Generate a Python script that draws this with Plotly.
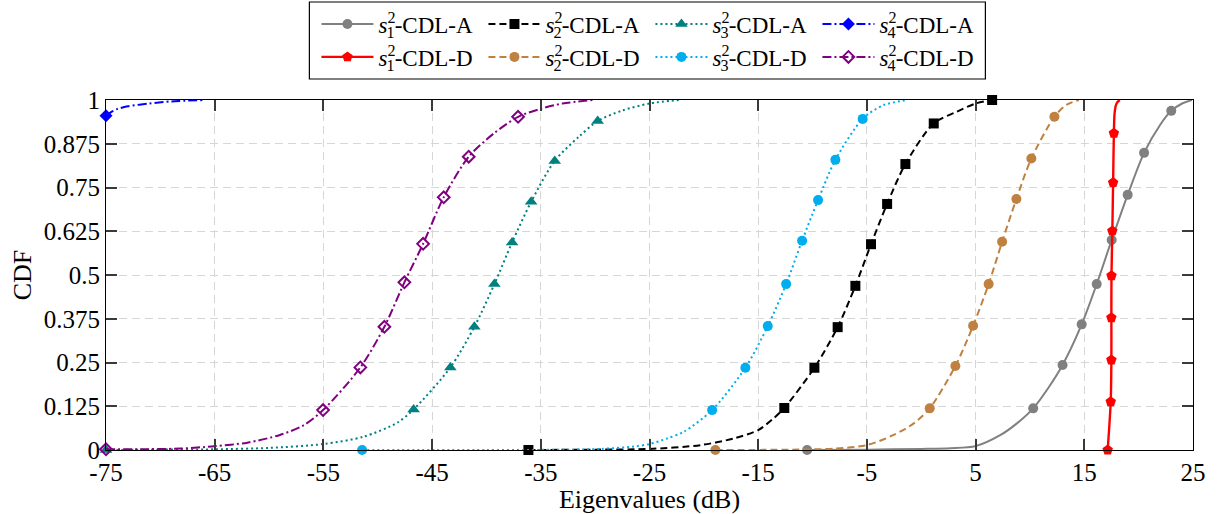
import plotly.graph_objects as go

# ---- axis ticks ----
X_TICKS = [-75, -65, -55, -45, -35, -25, -15, -5, 5, 15, 25]
X_TICK_TEXT = ["-75", "-65", "-55", "-45", "-35", "-25", "-15", "-5", "5", "15", "25"]
Y_TICKS = [0, 0.125, 0.25, 0.375, 0.5, 0.625, 0.75, 0.875, 1]
Y_TICK_TEXT = ["0", "0.125", "0.25", "0.375", "0.5", "0.625", "0.75", "0.875", "1"]

# ---- empirical CDF curves (eigenvalue in dB, CDF) ----
S1A_X = [-10.5, -5, 0, 2.7, 5, 7.3, 8.8, 10.3, 11.7, 13.0, 14.76, 16.14, 17.52, 18.99, 20.5, 22.0, 23.0, 24.0, 24.9]
S1A_Y = [0, 0.001, 0.003, 0.005, 0.011, 0.043, 0.076, 0.119, 0.178, 0.243, 0.359, 0.474, 0.600, 0.729, 0.849, 0.93, 0.969, 0.99, 1.0]
S1A_MARK = [0, 7, 9, 10, 11, 12, 13, 14, 16]

S1D_X = [17.15, 17.43, 17.49, 17.49, 17.50, 17.58, 17.65, 17.72, 17.78, 17.88, 18.0, 18.26]
S1D_Y = [0, 0.138, 0.257, 0.378, 0.498, 0.626, 0.764, 0.905, 0.96, 0.982, 0.992, 1.0]
S1D_MARK = [0, 1, 2, 3, 4, 5, 6, 7]

S2A_X = [-36.14, -30, -25, -20.3, -17.25, -15, -13.6, -12.6, -9.83, -7.69, -6.06, -4.62, -3.14, -1.46, 1.15, 3.3, 5.0, 6.52]
S2A_Y = [0, 0.001, 0.003, 0.014, 0.033, 0.057, 0.09, 0.12, 0.235, 0.351, 0.469, 0.588, 0.703, 0.817, 0.933, 0.967, 0.99, 1.0]
S2A_MARK = [0, 7, 8, 9, 10, 11, 12, 13, 14, 17]

S2D_X = [-18.94, -12, -8, -5, -2.54, -0.69, 0.78, 3.14, 4.77, 6.2, 7.44, 8.75, 10.13, 12.25, 13.3, 14.49]
S2D_Y = [0, 0.001, 0.004, 0.014, 0.043, 0.076, 0.119, 0.24, 0.355, 0.474, 0.595, 0.717, 0.833, 0.952, 0.985, 1.0]
S2D_MARK = [0, 6, 7, 8, 9, 10, 11, 12, 13]

S3A_X = [-75, -70, -65, -60, -55, -51.3, -48.2, -46.7, -43.32, -41.11, -39.27, -37.64, -35.89, -33.72, -31.5, -29.77, -27.5, -25, -22.31]
S3A_Y = [0, 0.001, 0.002, 0.006, 0.017, 0.038, 0.078, 0.116, 0.236, 0.352, 0.474, 0.593, 0.709, 0.826, 0.895, 0.94, 0.97, 0.99, 1.0]
S3A_MARK = [0, 7, 8, 9, 10, 11, 12, 13, 15]

S3D_X = [-51.44, -40, -32, -29.5, -26.45, -25, -23.38, -21.85, -19.24, -16.18, -14.12, -12.43, -10.96, -9.49, -7.9, -5.39, -3.5, -1.3]
S3D_Y = [0, 0, 0.001, 0.003, 0.01, 0.017, 0.033, 0.052, 0.114, 0.235, 0.354, 0.474, 0.598, 0.714, 0.829, 0.946, 0.985, 1.0]
S3D_MARK = [0, 8, 9, 10, 11, 12, 13, 14, 15]

S4A_X = [-75, -74.5, -74, -73, -71, -69, -66]
S4A_Y = [0.955, 0.966, 0.974, 0.982, 0.99, 0.996, 1.0]
S4A_MARK = [0]

S4D_X = [-75, -68.2, -65, -62, -59, -56.8, -55.03, -51.6, -49.39, -47.55, -45.83, -43.93, -41.63, -39.3, -37.09, -35, -33, -30.13]
S4D_Y = [0.002, 0.004, 0.011, 0.021, 0.043, 0.071, 0.114, 0.236, 0.352, 0.479, 0.589, 0.722, 0.838, 0.905, 0.952, 0.975, 0.99, 1.0]
S4D_MARK = [0, 6, 7, 8, 9, 10, 11, 12, 14]

FONT = "Liberation Serif"


def label(k, kind):
    # s_k^2 with the sub/superscript stacked
    return ("<i>s</i><sup><span style='letter-spacing:-0.55em'>2</span></sup>"
            f"<sub>{k}</sub>-CDL-{kind}")


# name, x, y, marker idx, colour, dash, symbol, marker size, legend row
SERIES = [
    (label(1, "A"), S1A_X, S1A_Y, S1A_MARK, "#808080", "solid", "circle", 10, "legend"),
    (label(2, "A"), S2A_X, S2A_Y, S2A_MARK, "#000000", "7px,4px", "square", 10, "legend"),
    (label(3, "A"), S3A_X, S3A_Y, S3A_MARK, "#008080", "2px,3px", "triangle-up", 11, "legend"),
    (label(4, "A"), S4A_X, S4A_Y, S4A_MARK, "#0000ff", "9px,3px,2px,3px", "diamond", 10, "legend"),
    (label(1, "D"), S1D_X, S1D_Y, S1D_MARK, "#ff0000", "solid", "pentagon", 11, "legend2"),
    (label(2, "D"), S2D_X, S2D_Y, S2D_MARK, "#bf8040", "7px,4px", "circle", 10, "legend2"),
    (label(3, "D"), S3D_X, S3D_Y, S3D_MARK, "#00aeef", "2px,3px", "circle", 10, "legend2"),
    (label(4, "D"), S4D_X, S4D_Y, S4D_MARK, "#800080", "9px,3px,2px,3px", "diamond-open", 9, "legend2"),
]

fig = go.Figure()

for name, xs, ys, marks, color, dash, symbol, msize, leg in SERIES:
    lw = 2.4 if color == "#ff0000" else 2
    mline = dict(width=2, color=color) if symbol.endswith("open") else dict(width=0)
    # smooth curve
    fig.add_trace(go.Scatter(
        x=xs, y=ys, mode="lines", showlegend=False, hoverinfo="skip",
        line=dict(color=color, width=lw, dash=dash, shape="spline", smoothing=0.8),
    ))
    # markers on the curve
    fig.add_trace(go.Scatter(
        x=[xs[i] for i in marks], y=[ys[i] for i in marks], mode="markers",
        showlegend=False, cliponaxis=False,
        marker=dict(symbol=symbol, size=msize, color=color, line=mline),
    ))
    # legend entry
    fig.add_trace(go.Scatter(
        x=[None], y=[None], mode="lines+markers", name=name, legend=leg,
        line=dict(color=color, width=lw, dash=dash),
        marker=dict(symbol=symbol, size=msize, color=color, line=mline),
    ))

axis_common = dict(
    showline=True, linecolor="black", linewidth=1.2, mirror="ticks",
    ticks="inside", ticklen=11, tickwidth=1.5, tickcolor="#3a3a3a",
    showgrid=True, gridcolor="#d6d6d6", gridwidth=1.2, griddash="8px,5px",
    zeroline=False, automargin=False,
    tickfont=dict(family=FONT, size=25, color="black"),
)

legend_common = dict(
    orientation="h", xanchor="left", yanchor="middle", x=0.1936,
    font=dict(family=FONT, size=23, color="black"),
    itemwidth=52, entrywidth=100, entrywidthmode="pixels",
    bgcolor="rgba(0,0,0,0)", borderwidth=0, itemclick=False, itemdoubleclick=False,
)

fig.update_layout(
    width=1217, height=514,
    margin=dict(l=106, r=24, t=100, b=64, autoexpand=False),
    paper_bgcolor="white", plot_bgcolor="white",
    font=dict(family=FONT, color="black"),
    xaxis=dict(range=[-75, 25], tickvals=X_TICKS, ticktext=X_TICK_TEXT,
               title=dict(text="Eigenvalues (dB)", font=dict(family=FONT, size=26), standoff=0),
               **axis_common),
    yaxis=dict(range=[0, 1], tickvals=Y_TICKS, ticktext=Y_TICK_TEXT,
               title=dict(text="CDF", font=dict(family=FONT, size=26), standoff=4),
               **axis_common),
    legend=dict(y=1.2172, **legend_common),
    legend2=dict(y=1.123, **legend_common),
    shapes=[dict(type="rect", xref="paper", yref="paper",
                 x0=0.1871, x1=0.809, y0=1.06, y1=1.28,
                 line=dict(color="black", width=1.2), fillcolor="rgba(0,0,0,0)")],
)

fig.write_html("out.html")
